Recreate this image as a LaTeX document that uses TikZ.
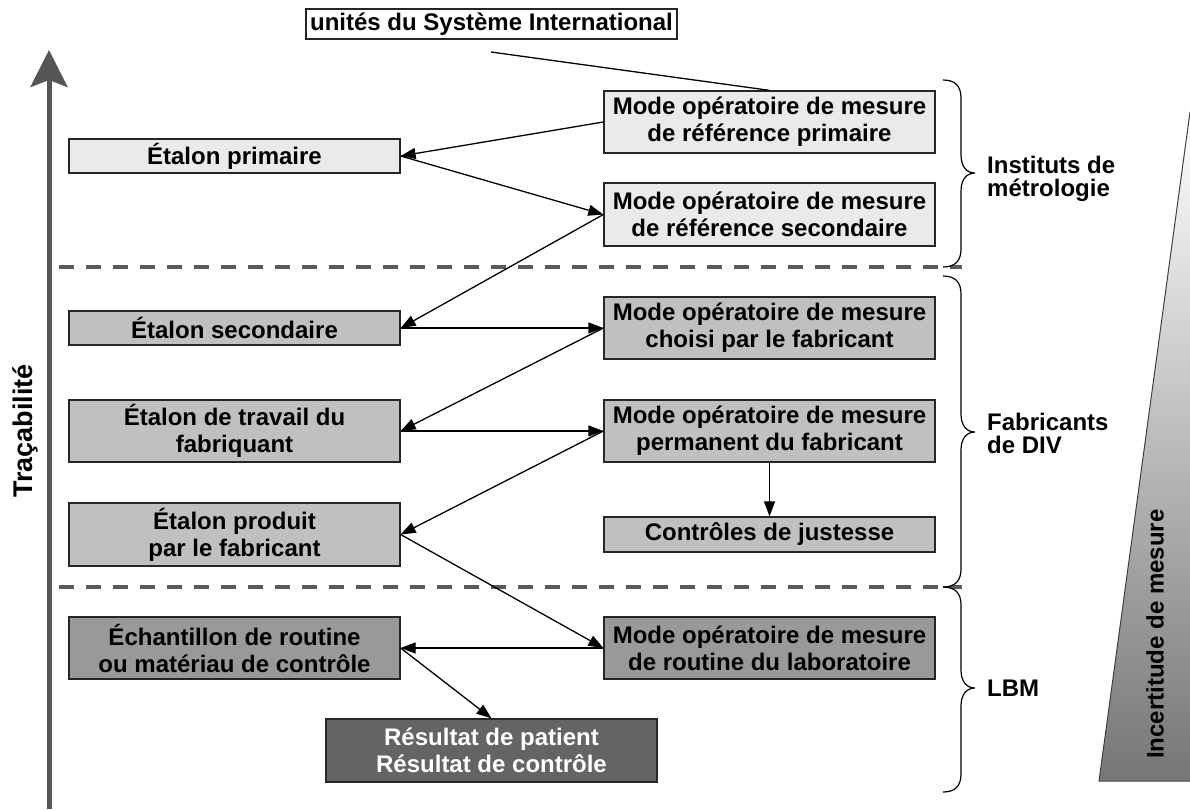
\documentclass[tikz,border=0pt]{standalone}
\usepackage{fontspec}
\setmainfont{Liberation Sans}
\usetikzlibrary{arrows.meta}
\definecolor{lvA}{HTML}{EAEAEA}
\definecolor{lvB}{HTML}{C0C0C0}
\definecolor{lvC}{HTML}{999999}
\definecolor{lvD}{HTML}{646464}
\definecolor{dashc}{HTML}{5A5A5A}
\definecolor{axisc}{HTML}{555555}
\definecolor{wedgeb}{HTML}{767676}
\begin{document}
\begin{tikzpicture}[x=1pt,y=-1pt,
  txt/.style={font=\fontsize{24}{27}\selectfont\bfseries},
  box/.style={txt, draw=black!85, line width=1.3pt, inner sep=0pt, minimum width=331pt, align=center},
  one/.style={box, minimum height=34pt},
  two/.style={box, minimum height=62pt},
  conn/.style={line width=1.3pt, -{Triangle[length=15pt,width=11pt]}},
  plain/.style={line width=1.3pt},
  sep/.style={dash pattern=on 15pt off 12pt, line width=4pt, color=dashc},
  brc/.style={line width=1.2pt, black},
  lab/.style={txt, anchor=west, align=left, inner sep=0pt}
]
\useasboundingbox (0,0) rectangle (1190,809);

% uncertainty wedge
\shade[top color=white, bottom color=wedgeb] (1190,112) -- (1099,781) -- (1190,781) -- cycle;
\draw[line width=1pt, black!75] (1190,112) -- (1099,781) -- (1190,781);
\node[txt, font=\fontsize{24}{28}\selectfont\bfseries, rotate=90] (inc) at (1155,634) {Incertitude de mesure};

% traceability axis
\coordinate (axb) at (49,809);
\coordinate (axt) at (49,50);
\draw[line width=5pt, axisc, -{Stealth[length=37pt,width=37pt,inset=7pt]}] (axb) -- (axt);
\node[font=\fontsize{27}{30}\selectfont\bfseries, rotate=90] (trac) at (25,431) {Traçabilité};

% separators
\coordinate (s1a) at (59,267); \coordinate (s1b) at (962,267);
\coordinate (s2a) at (59,587); \coordinate (s2b) at (962,587);
\draw[sep] (s1a) -- (s1b);
\draw[sep] (s2a) -- (s2b);

% boxes
\node[box, fill=white, minimum width=371pt, minimum height=30pt] (SI) at (491.5,24) {unités du Système International};
\node[one, fill=lvA] (EP) at (234.5,156) {Étalon primaire};
\node[two, fill=lvA] (MP) at (769.5,122) {Mode opératoire de mesure\\de référence primaire};
\node[two, fill=lvA, minimum height=63pt] (MS) at (769.5,214.5) {Mode opératoire de mesure\\de référence secondaire};
\node[one, fill=lvB] (ES) at (234.5,328) {Étalon secondaire};
\node[two, fill=lvB] (MC) at (769.5,328) {Mode opératoire de mesure\\choisi par le fabricant};
\node[two, fill=lvB] (ET) at (234.5,431) {Étalon de travail du\\fabriquant};
\node[two, fill=lvB] (MPe) at (769.5,431) {Mode opératoire de mesure\\permanent du fabricant};
\node[two, fill=lvB, minimum height=63pt] (EPr) at (234.5,534.5) {Étalon produit\\par le fabricant};
\node[one, fill=lvB, minimum height=35pt] (CJ) at (769.5,534.5) {Contrôles de justesse};
\node[two, fill=lvC] (EC) at (234.5,648) {Échantillon de routine\\ou matériau de contrôle};
\node[two, fill=lvC] (MR) at (769.5,648) {Mode opératoire de mesure\\de routine du laboratoire};
\node[two, fill=lvD, text=white, minimum height=63pt] (R) at (491.5,750.5) {Résultat de patient\\Résultat de contrôle};

% connectors
\coordinate (siend) at (491,52);
\draw[plain] (siend) -- (MP.north);
\draw[conn] (MP.west) -- (EP.east);
\draw[conn] (EP.east) -- (MS.west);
\draw[conn] (MS.west) -- (ES.east);
\draw[conn] (ES.east) -- (MC.west);
\draw[conn] (MC.west) -- (ET.east);
\draw[conn] (ET.east) -- (MPe.west);
\draw[conn] (MPe.west) -- (EPr.east);
\draw[conn] (EPr.east) -- (MR.west);
\draw[conn] (MR.west) -- (EC.east);
\draw[conn] (EC.east) -- (R.north);
\draw[conn] (MPe.south) -- (CJ.north);

% braces
\newcommand{\mybrace}[3]{%
  \draw[brc] (943,#1) .. controls (955,#1) and (961,{#1+6}) .. (961,{#1+18})
    -- (961,{#2-18}) .. controls (961,{#2-6}) and (967,#2) .. (975,#2)
    .. controls (967,#2) and (961,{#2+6}) .. (961,{#2+18})
    -- (961,{#3-18}) .. controls (961,{#3-6}) and (955,#3) .. (943,#3);}
\mybrace{80}{173}{267}
\mybrace{276}{432}{587}
\mybrace{587}{688}{792}

\node[lab, font=\fontsize{24}{23}\selectfont\bfseries] (L1) at (987,179) {Instituts de\\métrologie};
\node[lab, font=\fontsize{24}{23}\selectfont\bfseries] (L2) at (987,433) {Fabricants\\de DIV};
\node[lab] (L3) at (987,688) {LBM};
\end{tikzpicture}
\end{document}
